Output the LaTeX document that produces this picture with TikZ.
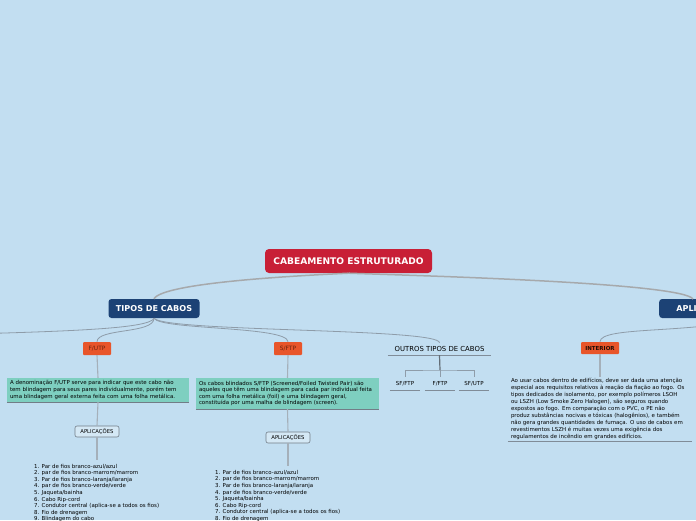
\documentclass[tikz,border=0pt]{standalone}
\usepackage{fontspec}
\setmainfont{DejaVu Sans}
\setsansfont{DejaVu Sans}
\definecolor{bg}{HTML}{C2DEF1}
\definecolor{rootred}{HTML}{C81F36}
\definecolor{navy}{HTML}{1C4275}
\definecolor{orng}{HTML}{E8552A}
\definecolor{orngtxt}{HTML}{6B2410}
\definecolor{teal}{HTML}{7ECFC0}
\definecolor{conn}{HTML}{8E9CA9}
\definecolor{mainconn}{HTML}{A6A9AC}
\tikzset{
  rootbox/.style={fill=rootred, rounded corners=4pt, text=white, font=\fontsize{9.1}{10}\selectfont\bfseries, minimum width=167pt, minimum height=24pt, inner sep=0pt},
  navybox/.style={fill=navy, rounded corners=3pt, text=white, font=\fontsize{8.1}{9}\selectfont\bfseries, minimum width=91pt, minimum height=19pt, inner sep=0pt},
  orbox/.style={fill=orng, rounded corners=1pt, text=orngtxt, font=\fontsize{5.9}{7}\selectfont, minimum height=13pt, inner sep=0pt},
  tealbox/.style={fill=teal, font=\fontsize{5.45}{6.6}\selectfont, align=left, inner sep=0pt},
  smallbox/.style={draw=conn!80!black, fill=bg!70!white, rounded corners=2pt, font=\fontsize{5.3}{6}\selectfont, minimum width=44pt, minimum height=11pt, inner sep=0pt, line width=0.6pt},
  plaintxt/.style={font=\fontsize{5.45}{6.55}\selectfont, align=left, inner sep=0pt},
  subtxt/.style={font=\fontsize{5.5}{7}\selectfont, minimum width=30pt, minimum height=13pt, inner sep=0pt},
  cn/.style={draw=conn, line width=0.8pt},
  mcn/.style={draw=mainconn, line width=1.5pt},
  ul/.style={draw=conn!90!black, line width=0.8pt}
}
\begin{document}
\begin{tikzpicture}[x=1pt,y=1pt]
\useasboundingbox (0,0) rectangle (696,-520);
\clip (0,0) rectangle (696,-520);
\fill[bg] (0,0) rectangle (696,-520);

% main nodes
\node[rootbox] (root) at (348.5,-261) {CABEAMENTO ESTRUTURADO};
\node[navybox] (tipos) at (154,-308.5) {TIPOS DE CABOS};
\node[navybox, anchor=west] (aplic) at (659,-308.5) {APLICAÇÕES};
\coordinate (aplictop) at (693,-299);

% children of TIPOS
\coordinate (leftout) at (-30,-334);
\node[orbox, minimum width=28pt] (fu) at (97,-348.5) {F/UTP};
\node[orbox, minimum width=28pt] (sf) at (288,-348.5) {S/FTP};
\node[font=\fontsize{6.9}{8}\selectfont, minimum width=103pt, minimum height=12pt, inner sep=0pt] (outros) at (439.5,-349) {OUTROS TIPOS DE CABOS};
\node[orbox, minimum width=38pt, minimum height=12pt, font=\fontsize{5.5}{7}\selectfont\bfseries, text=black!85!orng] (inter) at (600,-348) {INTERIOR};

% main connectors
\draw[mcn] (root.south) .. controls (290,-276) and (163,-283) .. (tipos.north);
\draw[mcn] (root.south) .. controls (430,-276) and (682,-283) .. (aplictop);

\draw[cn] (tipos.south) .. controls (150,-328) and (80,-331) .. (leftout);
\draw[cn] (tipos.south) .. controls (154,-334) and (97,-328) .. (fu.north);
\draw[cn] (tipos.south) .. controls (160,-330) and (288,-326) .. (sf.north);
\draw[cn] (tipos.south) .. controls (165,-332) and (440,-328) .. (outros.north);
\draw[cn] (aplic.south east) .. controls (690,-334) and (600,-326) .. (inter.north);

% F/UTP branch
\node[tealbox, minimum width=182pt, minimum height=24pt, text width=176pt] (fudesc) at (98,-390) {A denominação F/UTP serve para indicar que este cabo não\\tem blindagem para seus pares individualmente, porém tem\\uma blindagem geral externa feita com uma folha metálica.};
\draw[draw=conn!80!black, line width=0.7pt] (fudesc.south west) -- (fudesc.south east);
\node[smallbox] (fuapl) at (97,-431.5) {APLICAÇÕES};
\coordinate (fulist) at (97,-460);
\node[plaintxt, anchor=north west] (fulistt) at (34,-464) {1. Par de fios branco-azul/azul\\2. par de fios branco-marrom/marrom\\3. Par de fios branco-laranja/laranja\\4. par de fios branco-verde/verde\\5. Jaqueta/bainha\\6. Cabo Rip-cord\\7. Condutor central (aplica-se a todos os fios)\\8. Fio de drenagem\\9. Blindagem do cabo};
\draw[cn, line width=1.1pt, draw=conn!80!white] (fu.south) -- (fudesc.north);
\draw[cn, line width=1.1pt, draw=conn!80!white] (fudesc.south) -- (fuapl.north);
\draw[cn, line width=1.1pt, draw=conn!80!white] (fuapl.south) -- (fulist);

% S/FTP branch
\node[tealbox, minimum width=183pt, minimum height=31pt, text width=177pt] (sfdesc) at (287.5,-393.5) {Os cabos blindados S/FTP (Screened/Foiled Twisted Pair) são\\aqueles que têm uma blindagem para cada par individual feita\\com uma folha metálica (foil) e uma blindagem geral,\\constituída por uma malha de blindagem (screen).};
\draw[draw=conn!80!black, line width=0.7pt] (sfdesc.south west) -- (sfdesc.south east);
\node[smallbox] (sfapl) at (288,-437.5) {APLICAÇÕES};
\coordinate (sflist) at (288,-466);
\node[plaintxt, anchor=north west] (sflistt) at (215,-470) {1. Par de fios branco-azul/azul\\2. par de fios branco-marrom/marrom\\3. Par de fios branco-laranja/laranja\\4. par de fios branco-verde/verde\\5. Jaqueta/bainha\\6. Cabo Rip-cord\\7. Condutor central (aplica-se a todos os fios)\\8. Fio de drenagem\\9. Blindagem do cabo};
\draw[cn, line width=1.1pt, draw=conn!80!white] (sf.south) -- (sfdesc.north);
\draw[cn, line width=1.1pt, draw=conn!80!white] (sfdesc.south) -- (sfapl.north);
\draw[cn, line width=1.1pt, draw=conn!80!white] (sfapl.south) -- (sflist);

% OUTROS branch
\draw[ul] (outros.south west) -- (outros.south east);
\node[subtxt] (c1) at (405,-383.5) {SF/FTP};
\node[subtxt] (c2) at (440,-383.5) {F/FTP};
\node[subtxt] (c3) at (474,-383.5) {SF/UTP};
\foreach \c in {c1,c2,c3} {\draw[ul] (\c.south west) -- (\c.south east);}
\coordinate (bar) at (440,-370);
\draw[cn, line width=1.2pt, draw=conn!70!black] (outros.south) -- (bar);
\draw[cn] (c1.north) |- (bar) -| (c3.north);
\draw[cn] (bar) -- (c2.north);

% INTERIOR branch
\node[plaintxt, font=\fontsize{5.45}{7}\selectfont, minimum width=184pt, minimum height=64pt, text width=178pt] (interdesc) at (600,-409) {Ao usar cabos dentro de edifícios, deve ser dada uma atenção\\especial aos requisitos relativos à reação da fiação ao fogo. Os\\tipos dedicados de isolamento, por exemplo polímeros LSOH\\ou LSZH (Low Smoke Zero Halogen), são seguros quando\\expostos ao fogo. Em comparação com o PVC, o PE não\\produz substâncias nocivas e tóxicas (halogênios), e também\\não gera grandes quantidades de fumaça. O uso de cabos em\\revestimentos LSZH é muitas vezes uma exigência dos\\regulamentos de incêndio em grandes edifícios.};
\draw[ul] (interdesc.south west) -- (interdesc.south east);
\draw[cn, line width=1.1pt, draw=conn!80!white] (inter.south) -- (interdesc.north);
\end{tikzpicture}
\end{document}
